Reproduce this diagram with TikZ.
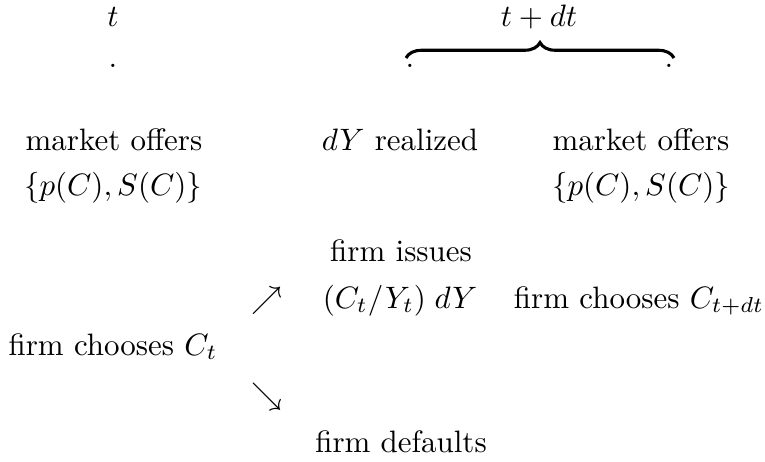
\documentclass[tikz,border=0pt]{standalone}
\usetikzlibrary{decorations.pathreplacing}
\begin{document}
\begin{tikzpicture}[x=0.323pt,y=-0.323pt,
  lbl/.style={anchor=base,inner sep=0pt,outer sep=0pt}]
\useasboundingbox (0,0) rectangle (765,461);
\node[lbl] (t) at (113,26) {$t$};
\node[lbl] (d0) at (113,67) {.};
\node[lbl] (tdt) at (539,26) {$t+dt$};
\node[lbl] (d1) at (410,67) {.};
\node[lbl] (d2) at (669,67) {.};
\draw[line width=1pt,decorate,decoration={brace,amplitude=5pt}] (406,58) -- (674,58);
\node[lbl] (mo1) at (114,150) {market offers};
\node[lbl] (ps1) at (113,195) {$\{p(C),S(C)\}$};
\node[lbl] (dy) at (400,150) {$dY$ realized};
\node[lbl] (mo2) at (641,150) {market offers};
\node[lbl] (ps2) at (641,195) {$\{p(C),S(C)\}$};
\node[lbl] (fi) at (401,261) {firm issues};
\node[lbl] (ne) at (267,308) {$\nearrow$};
\node[lbl] (cy) at (400,308) {$(C_t/Y_t)\;dY$};
\node[lbl] (fc2) at (639,308) {firm chooses $C_{t+dt}$};
\node[lbl] (fc1) at (113,355) {firm chooses $C_t$};
\node[lbl] (se) at (267,404) {$\searrow$};
\node[lbl] (fd) at (401,452) {firm defaults};
\end{tikzpicture}
\end{document}
